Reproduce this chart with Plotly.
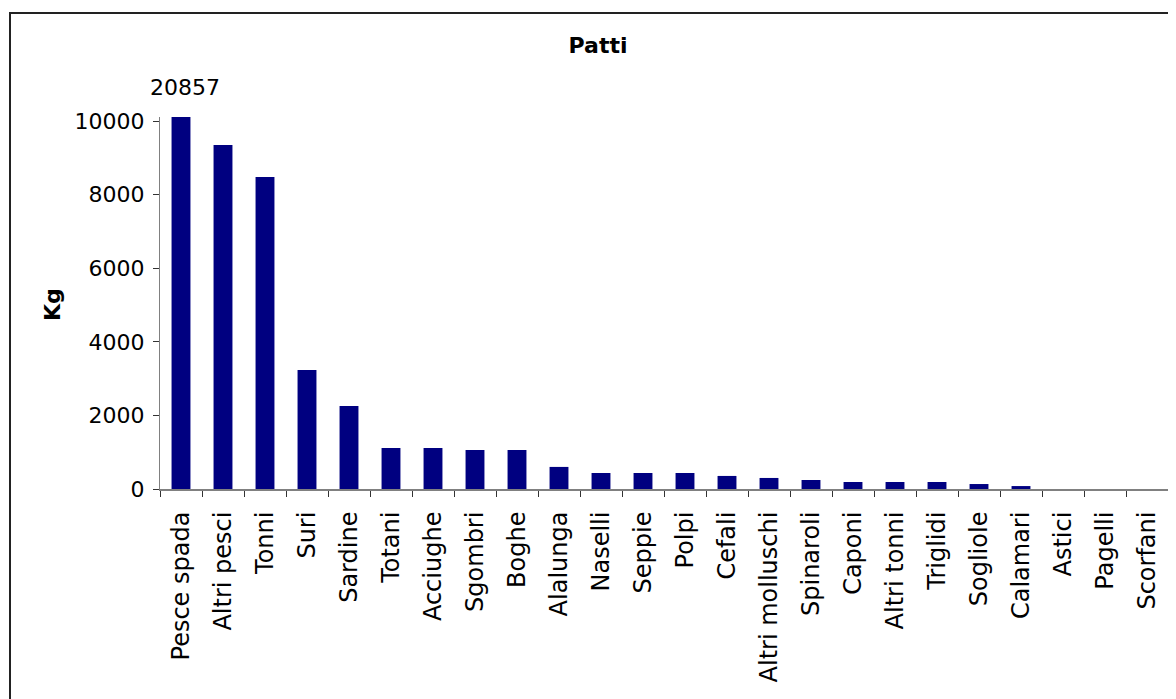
import plotly.graph_objects as go

categories = ["Pesce spada", "Altri pesci", "Tonni", "Suri", "Sardine", "Totani",
              "Acciughe", "Sgombri", "Boghe", "Alalunga", "Naselli", "Seppie",
              "Polpi", "Cefali", "Altri molluschi", "Spinaroli", "Caponi",
              "Altri tonni", "Triglidi", "Sogliole", "Calamari", "Astici",
              "Pagelli", "Scorfani"]
values_kg = [20857, 9350, 8480, 3235, 2255, 1115, 1115, 1060, 1060, 600, 435, 435,
             435, 355, 300, 245, 190, 190, 190, 135, 80, 0, 0, 0]
y_ticks = [0, 2000, 4000, 6000, 8000, 10000]
title_text = "Patti"
y_title = "Kg"

FONT = "DejaVu Sans"
W, H = 1176, 699
OFF = 8  # page body margin
L, R, T, B = 160 - OFF, 16, 117 - OFF, 699 - (489 - OFF)
PW, PH = W - L - R, H - T - B

fig = go.Figure()
fig.add_trace(go.Bar(
    x=categories, y=values_kg,
    marker=dict(color="#000080", line=dict(width=0)),
    cliponaxis=True,
))

# label for the clipped first bar
fig.add_annotation(
    x=categories[0], y=10109, xref="x", yref="y",
    text=str(values_kg[0]), showarrow=False,
    yanchor="bottom", yshift=15, xshift=4,
    font=dict(family=FONT, size=22, color="#000000"),
)

# y-axis title placed explicitly
fig.add_annotation(
    x=(52 - OFF - L) / PW, y=0.5, xref="paper", yref="paper",
    text="<b>" + y_title + "</b>", showarrow=False, textangle=-90,
    xanchor="center", yanchor="middle",
    yshift=(305 - OFF - (T + PH / 2)) * -1,
    font=dict(family=FONT, size=22, color="#000000"),
)

fig.update_layout(
    width=W, height=H,
    margin=dict(l=L, r=R, t=T, b=B, pad=0, autoexpand=False),
    paper_bgcolor="white", plot_bgcolor="white",
    showlegend=False,
    bargap=0.55,
    font=dict(family=FONT, size=22, color="#000000"),
    title=dict(text="<b>" + title_text + "</b>", x=(598 - OFF) / W, xanchor="center",
               y=1 - (45 - OFF) / H, yanchor="middle",
               font=dict(family=FONT, size=22, color="#000000")),
    shapes=[dict(type="rect", xref="paper", yref="paper",
                 x0=(10 - OFF - L) / PW, x1=(W + 20 - L) / PW,
                 y0=-(H + 20 - (H - B)) / PH, y1=(H - (13 - OFF) - B) / PH,
                 line=dict(color="#222222", width=2), fillcolor="rgba(0,0,0,0)",
                 layer="below")],
)

fig.update_xaxes(
    type="category", range=[-0.5, len(categories) - 0.5],
    showgrid=False, zeroline=False, automargin=False,
    showline=True, linecolor="#808080", linewidth=2,
    ticks="outside", tickson="boundaries", ticklen=6, tickcolor="#333333", tickwidth=1,
    tickangle=-90, tickfont=dict(family=FONT, size=24, color="#000000"),
    ticklabelstandoff=11,
)
fig.update_yaxes(
    range=[0, 10109], tickvals=y_ticks, ticktext=[str(v) for v in y_ticks],
    showgrid=False, zeroline=False, automargin=False,
    showline=True, linecolor="#808080", linewidth=1,
    ticks="outside", ticklen=6, tickcolor="#333333", tickwidth=1,
    tickfont=dict(family=FONT, size=22, color="#000000"),
    ticklabelstandoff=4,
)

fig.write_html("out.html")
